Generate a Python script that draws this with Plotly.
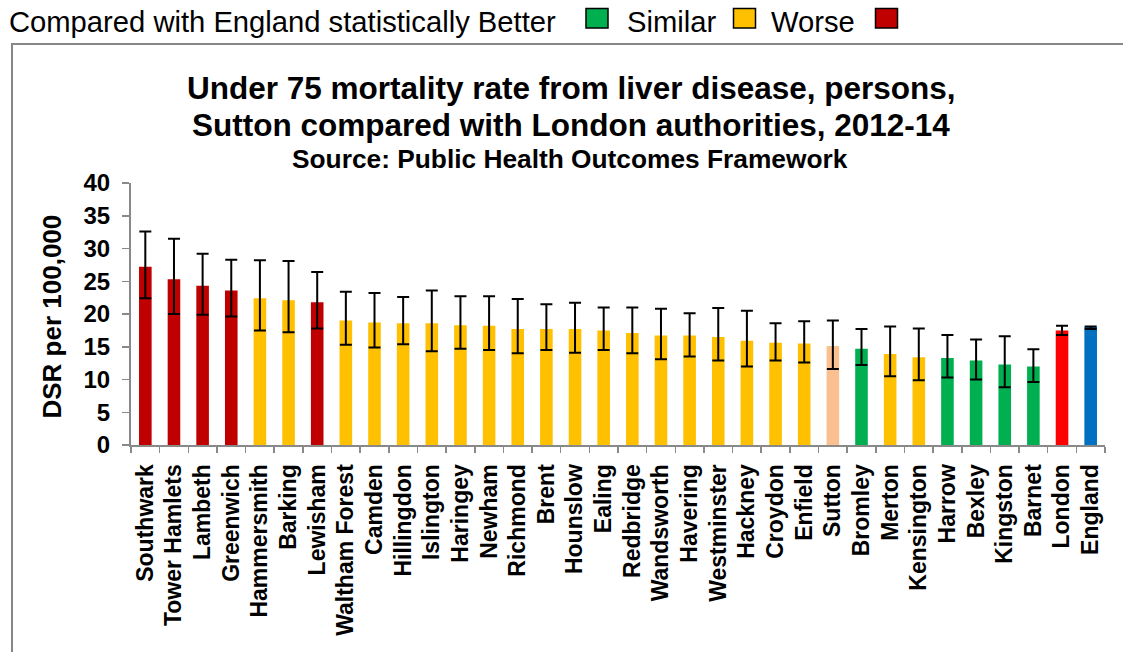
import plotly.graph_objects as go

categories = ["Southwark", "Tower Hamlets", "Lambeth", "Greenwich", "Hammersmith", "Barking",
              "Lewisham", "Waltham Forest", "Camden", "Hillingdon", "Islington", "Haringey",
              "Newham", "Richmond", "Brent", "Hounslow", "Ealing", "Redbridge", "Wandsworth",
              "Havering", "Westminster", "Hackney", "Croydon", "Enfield", "Sutton", "Bromley",
              "Merton", "Kensington", "Harrow", "Bexley", "Kingston", "Barnet", "London", "England"]
values = [27.2, 25.3, 24.3, 23.6, 22.4, 22.1, 21.8, 19.0, 18.7, 18.6, 18.6, 18.3, 18.2, 17.7,
          17.7, 17.7, 17.5, 17.1, 16.7, 16.7, 16.5, 15.9, 15.6, 15.5, 15.1, 14.7, 13.9, 13.4,
          13.3, 12.9, 12.3, 12.0, 17.5, 18.0]
upper_ci = [32.6, 31.5, 29.2, 28.3, 28.2, 28.1, 26.4, 23.4, 23.2, 22.6, 23.6, 22.7, 22.7, 22.3,
            21.5, 21.7, 21.0, 21.0, 20.8, 20.1, 20.9, 20.5, 18.6, 18.9, 19.0, 17.7, 18.1, 17.8,
            16.8, 16.1, 16.6, 14.6, 18.2, 18.1]
lower_ci = [22.4, 20.0, 19.9, 19.6, 17.5, 17.2, 17.8, 15.3, 14.9, 15.4, 14.3, 14.7, 14.5, 14.0,
            14.5, 14.1, 14.5, 14.0, 13.1, 13.5, 12.9, 12.0, 12.9, 12.6, 11.6, 12.2, 10.5, 9.9,
            10.3, 10.0, 8.8, 9.6, 16.8, 17.7]
status = ["Worse", "Worse", "Worse", "Worse", "Similar", "Similar", "Worse", "Similar", "Similar",
          "Similar", "Similar", "Similar", "Similar", "Similar", "Similar", "Similar", "Similar",
          "Similar", "Similar", "Similar", "Similar", "Similar", "Similar", "Similar", "Sutton",
          "Better", "Similar", "Similar", "Better", "Better", "Better", "Better", "London", "England"]

status_colors = {"Better": "#00B050", "Similar": "#FFC000", "Worse": "#C00000",
                 "Sutton": "#FAC090", "London": "#FF0000", "England": "#0070C0"}
legend_items = ["Similar", "Worse"]
legend_prefix = "Compared with England statistically Better"

W, H = 1123, 652
L, R, T, B = 131, 1105, 183, 445
FONT = "Liberation Sans, Arial, sans-serif"


def px(x):
    return (x - L) / (R - L)


def py(y):
    return (B - y) / (B - T)


err_plus = [u - v for u, v in zip(upper_ci, values)]
err_minus = [v - lo for v, lo in zip(values, lower_ci)]

fig = go.Figure(go.Bar(
    x=categories, y=values,
    marker=dict(color=[status_colors[s] for s in status], line=dict(width=0)),
    error_y=dict(type="data", symmetric=False, array=err_plus, arrayminus=err_minus,
                 color="black", thickness=2, width=6),
))

axis_gray = "#898989"
fig.update_layout(
    width=W, height=H,
    margin=dict(l=L, r=W - R, t=T, b=H - B, autoexpand=False),
    paper_bgcolor="white", plot_bgcolor="white",
    bargap=0.56, showlegend=False,
    font=dict(family=FONT, color="black"),
    xaxis=dict(type="category", showline=True, linecolor=axis_gray, linewidth=2,
               ticks="outside", tickson="boundaries", ticklen=6, tickwidth=1.5,
               tickcolor=axis_gray, tickangle=-90, showgrid=False,
               tickfont=dict(family=FONT, size=23, color="black", weight="bold"),
               ticklabelstandoff=8),
    yaxis=dict(range=[0, 40], dtick=5, showline=True, linecolor=axis_gray, linewidth=2,
               ticks="outside", ticklen=7, tickwidth=1.5, tickcolor=axis_gray,
               showgrid=False, zeroline=False,
               tickfont=dict(family=FONT, size=24, color="black", weight="bold"),
               ticklabelstandoff=7),
)

annotations = [
    dict(text="<b>Under 75 mortality rate from liver disease, persons,</b>", x=px(571), y=py(88),
         font=dict(size=31.5)),
    dict(text="<b>Sutton compared with London authorities, 2012-14</b>", x=px(571), y=py(124.5),
         font=dict(size=31.5)),
    dict(text="<b>Source: Public Health Outcomes Framework</b>", x=px(569.5), y=py(159),
         font=dict(size=26.3)),
    dict(text="<b>DSR per 100,000</b>", x=px(51), y=py(316.5), textangle=-90,
         font=dict(size=26)),
    dict(text=legend_prefix, x=px(7), y=py(21.5), xanchor="left", font=dict(size=29.2)),
    dict(text=legend_items[0], x=px(625), y=py(21.5), xanchor="left", font=dict(size=29.2)),
    dict(text=legend_items[1], x=px(769), y=py(21.5), xanchor="left", font=dict(size=29.2)),
]
for a in annotations:
    a.setdefault("xanchor", "center")
    a.update(xref="paper", yref="paper", yanchor="middle", showarrow=False)
    a["font"].update(family=FONT, color="black")
fig.update_layout(annotations=annotations)

shapes = [
    # outer chart box
    dict(type="rect", x0=px(12), x1=px(1140), y0=py(44), y1=py(670),
         line=dict(color="#868686", width=2), fillcolor="rgba(0,0,0,0)", layer="below"),
]
for x0, key in [(586, "Better"), (733.5, "Similar"), (875.5, "Worse")]:
    shapes.append(dict(type="rect", x0=px(x0), x1=px(x0 + 22), y0=py(8.5), y1=py(28),
                       line=dict(color="black", width=1.5), fillcolor=status_colors[key]))
for s in shapes:
    s.update(xref="paper", yref="paper")
fig.update_layout(shapes=shapes)

fig.write_html("out.html", config={"displayModeBar": False, "staticPlot": True},
               post_script="document.body.style.margin='0';document.body.style.overflow='hidden';")
